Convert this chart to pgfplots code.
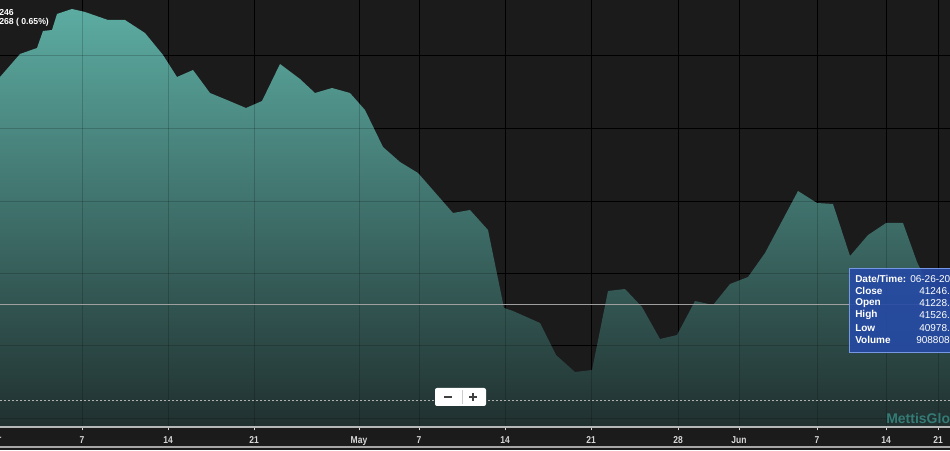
\documentclass[border=0pt]{standalone}
\usepackage{fontspec}
\setmainfont{Liberation Sans}
\newfontfamily\condfont[FakeStretch=0.85]{Liberation Sans}
\usepackage{pgfplots}
\pgfplotsset{compat=1.18}

\definecolor{bgdark}{RGB}{27,27,27}
\definecolor{tealtop}{RGB}{92,172,162}
\definecolor{tealbot}{RGB}{32,48,47}
\definecolor{tipblue}{RGB}{38,74,165}
\definecolor{tipedge}{RGB}{120,150,230}
\definecolor{ticktxt}{RGB}{215,215,215}
\definecolor{wmark}{RGB}{52,122,117}

% 1 px of the reference = 0.75pt; plot area 950 x 427 px, strip of 23 px below
\begin{document}
\begin{tikzpicture}
\useasboundingbox (0,0) rectangle (712.5pt,337.5pt);
\clip (0,0) rectangle (712.5pt,337.5pt);
\fill[bgdark] (0,0) rectangle (712.5pt,337.5pt);
\begin{axis}[
    at={(0pt,17.25pt)}, anchor=south west,
    scale only axis, width=712.5pt, height=320.25pt,
    xmin=0, xmax=950, ymin=0, ymax=427,
    clip=false,
    axis line style={draw=none},
    xtick={82,168,254,359,419,505,591,678,739,817,886,938},
    xticklabels={7,14,21,May,7,14,21,28,Jun,7,14,21},
    xtick pos=lower, tick align=outside, major tick length=2.5pt,
    xtick style={draw=ticktxt, line width=0.6pt},
    xticklabel style={font=\condfont\bfseries\fontsize{7.5}{9}\selectfont, text=ticktxt,
      text height=5.4pt, text depth=0pt, yshift=-0.8pt},
    ytick={9,82,154,226,299,372}, yticklabels={}, ytick style={draw=none},
    grid=major, major grid style={draw=black, line width=0.7pt},
]
% index level (close), in px above the date axis
\addplot[draw=none, top color=tealtop, bottom color=tealbot] coordinates {
  (0,350) (20,373) (37,379) (43,396) (52,397) (57,413) (72,418) (85,415)
  (108,407) (125,407) (145,394) (163,372) (177,350) (193,357) (210,334)
  (227,327) (246,319) (262,326) (280,363) (300,348) (315,334) (332,339)
  (350,334) (365,317) (383,280) (400,265) (418,254) (453,214) (470,217)
  (488,197) (504,119) (513,116) (540,104) (556,72) (575,55) (592,57)
  (608,136) (625,138) (642,120) (660,88) (677,92) (695,126) (713,122)
  (730,143) (748,150) (765,174) (798,236) (817,224) (833,223) (850,171)
  (868,192) (886,204) (903,204) (917,165) (933,132) (950,123)
} \closedcycle;

% faint grid over the area
\pgfplotsinvokeforeach{82,168,254,359,419,505,591,678,739,817,886,938}{
  \draw[black, opacity=0.18, line width=0.7pt] (axis cs:#1,0) -- (axis cs:#1,427);
}
\pgfplotsinvokeforeach{9,82,154,226,299,372}{
  \draw[black, opacity=0.18, line width=0.7pt] (axis cs:0,#1) -- (axis cs:950,#1);
}

% dotted base line and price line
\draw[gray!60, dash pattern=on 1.5pt off 1.5pt, line width=0.5pt] (axis cs:0,27) -- (axis cs:950,27);
\draw[gray!75!white, line width=0.6pt] (axis cs:0,123) -- (axis cs:950,123);

% date axis
\draw[ticktxt!85!black, line width=1.1pt] (axis cs:0,0) -- (axis cs:950,0);
\draw[gray!70, line width=0.8pt] (axis cs:0,-20) -- (axis cs:950,-20);
\node[font=\condfont\bfseries\fontsize{7.5}{9}\selectfont, text=ticktxt] at (axis cs:-6,-13) {Apr};

% watermark
\node[anchor=west, inner sep=0pt, font=\bfseries\fontsize{10.5}{12}\selectfont, text=wmark] at (axis cs:886,9) {MettisGlobal};

% zoom buttons
\fill[white, rounded corners=1.5pt] (axis cs:435,21) rectangle (axis cs:486,39);
\draw[gray!40, line width=0.5pt] (axis cs:462,23) -- (axis cs:462,37);
\draw[black!75, line width=1.1pt] (axis cs:444,30) -- (axis cs:452,30);
\draw[black!75, line width=1.1pt] (axis cs:469,30) -- (axis cs:477,30)
  (axis cs:473,26) -- (axis cs:473,34);

% header text
\node[anchor=west, inner sep=0pt, text=white, font=\bfseries\fontsize{6.5}{7}\selectfont] at (axis cs:-1,414) {246};
\node[anchor=west, inner sep=0pt, text=white, font=\bfseries\fontsize{6.5}{7}\selectfont] at (axis cs:-1,405) {268 ( 0.65\%)};

% tooltip
\fill[tipblue, opacity=0.9] (axis cs:849,75) rectangle (axis cs:970,159);
\draw[tipedge, line width=0.7pt] (axis cs:849,75) rectangle (axis cs:970,159);
\begin{scope}[every node/.style={anchor=west, inner sep=0pt, text=white, font=\fontsize{7.5}{9}\selectfont}]
\node[font=\bfseries\fontsize{7.5}{9}\selectfont] at (axis cs:855,148) {Date/Time:};
\node[font=\bfseries\fontsize{7.5}{9}\selectfont] at (axis cs:855,136) {Close};
\node[font=\bfseries\fontsize{7.5}{9}\selectfont] at (axis cs:855,124) {Open};
\node[font=\bfseries\fontsize{7.5}{9}\selectfont] at (axis cs:855,112) {High};
\node[font=\bfseries\fontsize{7.5}{9}\selectfont] at (axis cs:855,99) {Low};
\node[font=\bfseries\fontsize{7.5}{9}\selectfont] at (axis cs:855,87) {Volume};
\node at (axis cs:910,148) {06-26-2020};
\node at (axis cs:919,136) {41246.00};
\node at (axis cs:919,124) {41228.00};
\node at (axis cs:919,112) {41526.00};
\node at (axis cs:919,99) {40978.00};
\node at (axis cs:916,87) {90880800};
\end{scope}
\end{axis}
\end{tikzpicture}
\end{document}
